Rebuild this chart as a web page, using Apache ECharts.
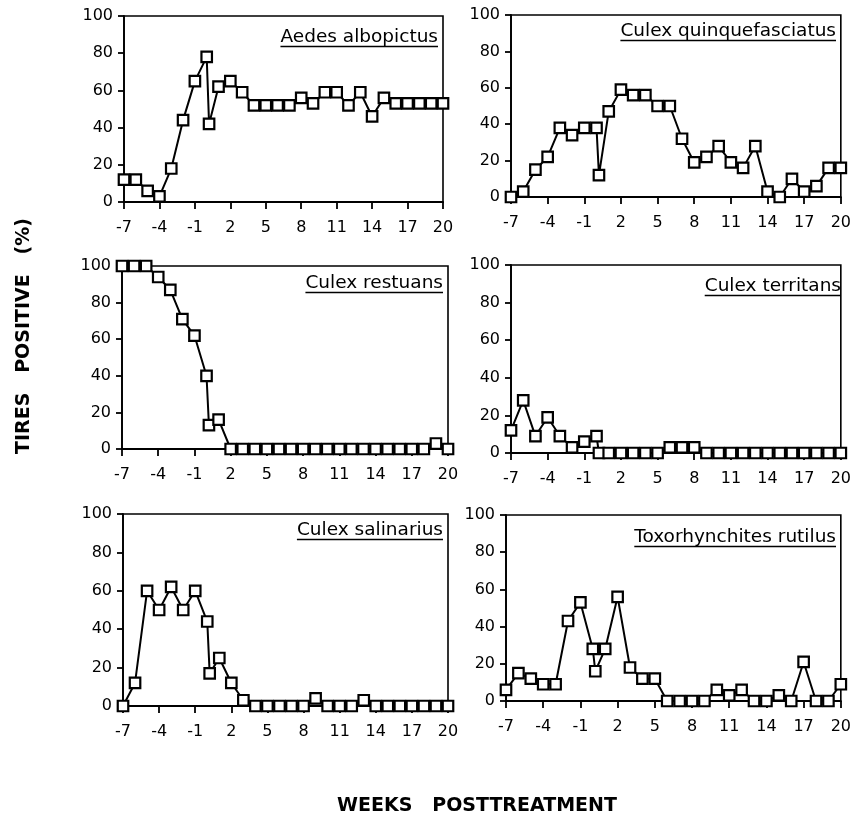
<!DOCTYPE html>
<html>
<head>
<meta charset="utf-8">
<script src="https://cdn.jsdelivr.net/npm/echarts@6/dist/echarts.min.js"></script>
<style>
html,body{margin:0;padding:0;background:#fff;}
#chart{width:854px;height:817px;}
</style>
</head>
<body>
<div id="chart"></div>
<script>
// ---- data ----
const weeks = [-7,-6,-5,-4,-3,-2,-1,0,0.2,1,2,3,4,5,6,7,8,9,10,11,12,13,14,15,16,17,18,19,20];
const aedesAlbopictus       = [12,12,6,3,18,44,65,78,42,62,65,59,52,52,52,52,56,53,59,59,52,59,46,56,53,53,53,53,53];
const culexQuinquefasciatus = [0,3,15,22,38,34,38,38,12,47,59,56,56,50,50,32,19,22,28,19,16,28,3,0,10,3,6,16,16];
const culexRestuans         = [100,100,100,94,87,71,62,40,13,16,0,0,0,0,0,0,0,0,0,0,0,0,0,0,0,0,0,3,0];
const culexTerritans        = [12,28,9,19,9,3,6,9,0,0,0,0,0,0,3,3,3,0,0,0,0,0,0,0,0,0,0,0,0];
const culexSalinarius       = [0,12,60,50,62,50,60,44,17,25,12,3,0,0,0,0,0,4,0,0,0,3,0,0,0,0,0,0,0];
const toxorhynchitesRutilus = [6,15,12,9,9,43,53,28,16,28,56,18,12,12,0,0,0,0,6,3,6,0,0,3,0,21,0,0,9];
const panelTitles = ["Aedes albopictus","Culex quinquefasciatus","Culex restuans","Culex territans","Culex salinarius","Toxorhynchites rutilus"];
const xTicks = [-7,-4,-1,2,5,8,11,14,17,20];
const xAxisTitle = "WEEKS   POSTTREATMENT";
const yAxisTitle = "TIRES   POSITIVE   (%)";

// ---- layout ----
const seriesList = [aedesAlbopictus, culexQuinquefasciatus, culexRestuans, culexTerritans, culexSalinarius, toxorhynchitesRutilus];
const gridRects = [
  {left:124, top:16,  width:319, height:186},
  {left:511, top:15,  width:330, height:182},
  {left:122, top:266, width:326, height:183},
  {left:511, top:265, width:335, height:188},
  {left:123, top:514, width:325, height:192},
  {left:506, top:515, width:335, height:186}
];
const labelBase = [27,22,23,27,22,28];
const FONT = '"DejaVu Sans", Arial, sans-serif';
const labelFontSize = 18.5;

const ctx = document.createElement('canvas').getContext('2d');
ctx.font = labelFontSize + 'px "DejaVu Sans"';

const grids = [], xAxes = [], yAxes = [], series = [], graphics = [];
gridRects.forEach((g, i) => {
  grids.push({left:g.left, top:g.top, width:g.width, height:g.height, show:true, borderColor:'#000', borderWidth:1.6, backgroundColor:'transparent', containLabel:false});
  xAxes.push({
    gridIndex:i, type:'value', min:-7, max:20,
    axisLine:{onZero:false, lineStyle:{color:'#000', width:1.8}},
    axisTick:{show:true, customValues:xTicks, length:7, lineStyle:{color:'#000', width:1.8}},
    axisLabel:{customValues:xTicks, color:'#000', fontSize:16, fontFamily:FONT, margin:18},
    splitLine:{show:false}
  });
  yAxes.push({
    gridIndex:i, type:'value', min:0, max:100, interval:20,
    axisLine:{show:true, onZero:false, lineStyle:{color:'#000', width:1.8}},
    axisTick:{show:true, length:6, lineStyle:{color:'#000', width:1.8}},
    axisLabel:{color:'#000', fontSize:16, fontFamily:FONT, margin:11},
    splitLine:{show:false}
  });
  series.push({
    type:'line', xAxisIndex:i, yAxisIndex:i,
    data: weeks.map((w, j) => [w, seriesList[i][j]]),
    symbol:'rect', symbolSize:10.5, clip:false,
    itemStyle:{color:'#fff', borderColor:'#000', borderWidth:2.2},
    lineStyle:{color:'#000', width:2},
    animation:false
  });
  const right = g.left + g.width - 5;
  const base = g.top + labelBase[i];
  const w = ctx.measureText(panelTitles[i]).width;
  graphics.push({
    type:'text', x:right, y:base - 6,
    style:{text:panelTitles[i], fill:'#000', font:labelFontSize + 'px ' + FONT, textAlign:'right', textVerticalAlign:'middle'}
  });
  graphics.push({
    type:'line', shape:{x1:right - w, y1:base + 3.5, x2:right, y2:base + 3.5},
    style:{stroke:'#000', lineWidth:1.6}
  });
});
graphics.push({
  type:'text', x:477, y:806,
  style:{text:xAxisTitle, fill:'#000', font:'bold 19px ' + FONT, textAlign:'center', textVerticalAlign:'middle'}
});
graphics.push({
  type:'text', x:24, y:336, rotation:Math.PI/2,
  style:{text:yAxisTitle, fill:'#000', font:'bold 19px ' + FONT, textAlign:'center', textVerticalAlign:'middle'}
});

const chart = echarts.init(document.getElementById('chart'), null, {renderer:'canvas'});
chart.setOption({
  animation:false,
  backgroundColor:'#fff',
  grid:grids, xAxis:xAxes, yAxis:yAxes, series:series,
  graphic:graphics
});
</script>
</body>
</html>
